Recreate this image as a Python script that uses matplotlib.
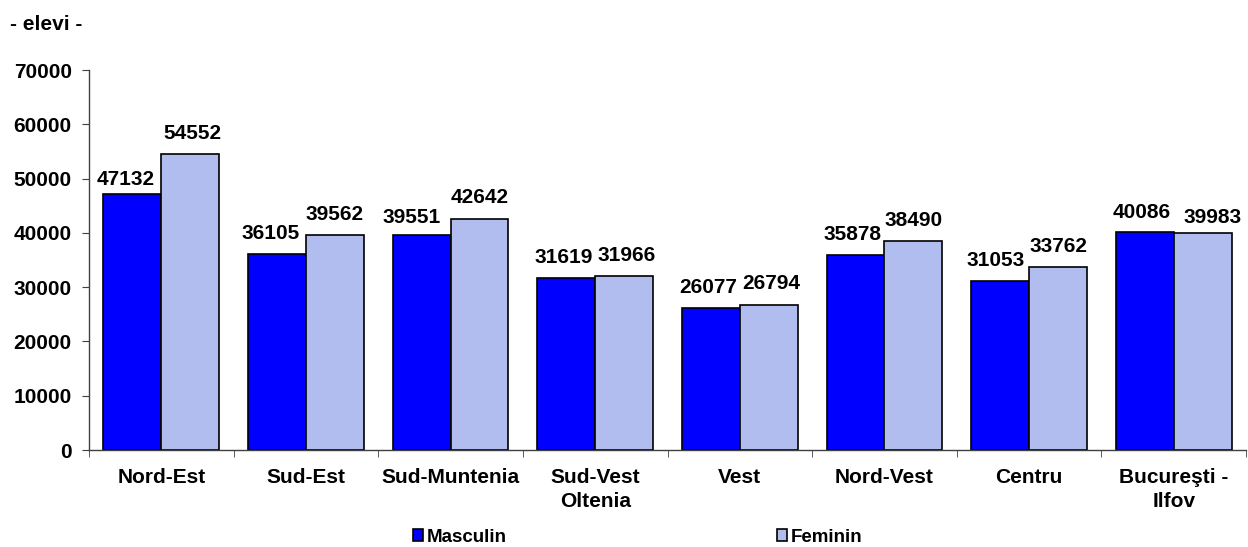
import numpy as np
import matplotlib.pyplot as plt
from matplotlib.patches import Patch

# elevi pe regiuni de dezvoltare, pe sexe
regiuni = ['Nord-Est', 'Sud-Est', 'Sud-Muntenia', 'Sud-Vest\nOltenia', 'Vest',
           'Nord-Vest', 'Centru', 'Bucureşti -\nIlfov']
masculin = [47132, 36105, 39551, 31619, 26077, 35878, 31053, 40086]
feminin = [54552, 39562, 42642, 31966, 26794, 38490, 33762, 39983]
yticks = [0, 10000, 20000, 30000, 40000, 50000, 60000, 70000]

# label nudges (points) as in the original, to avoid collisions
dx_m = [-4.5, -4.5, -7, -2, -2, -2, -3, -2]
dy_m = [4, 8, 6, 8, 8, 8, 8, 7.5]
dx_f = [1.5, 0, 0, 2, 1.5, 0, 0.5, 7]
dy_f = [8, 8, 8, 8, 8, 8, 8, 4]

col_m = '#0000FF'
col_f = '#B1BDEE'

plt.rcParams['font.family'] = ['Liberation Sans', 'DejaVu Sans']
plt.rcParams['font.weight'] = 'bold'
fs = 15

fig = plt.figure(figsize=(12.48, 5.47), dpi=100)
ax = fig.add_axes([89/1248, 1 - 450/547, (1246 - 89)/1248, 380/547])

x = np.arange(len(regiuni))
w = 0.4
b1 = ax.bar(x - w/2, masculin, w, color=col_m, edgecolor='black', linewidth=1.2, label='Masculin')
b2 = ax.bar(x + w/2, feminin, w, color=col_f, edgecolor='black', linewidth=1.2, label='Feminin')

for bars, vals, dxs, dys in ((b1, masculin, dx_m, dy_m), (b2, feminin, dx_f, dy_f)):
    for r, v, dx, dy in zip(bars, vals, dxs, dys):
        ax.annotate(str(v), (r.get_x() + r.get_width()/2, v), xytext=(dx, dy),
                    textcoords='offset points', ha='center', va='bottom',
                    fontsize=fs, fontweight='bold')

ax.set_xlim(-0.5, len(regiuni) - 0.5)
ax.set_ylim(0, 70000)
ax.set_yticks(yticks)
ax.set_yticklabels([str(t) for t in yticks], fontsize=fs, fontweight='bold')
ax.set_xticks(x)
ax.set_xticklabels(regiuni, fontsize=fs, fontweight='bold', linespacing=1.3)
ax.tick_params(axis='x', length=0, pad=13)
ax.set_xticks(np.arange(-0.5, len(regiuni)), minor=True)
ax.tick_params(axis='x', which='minor', length=5, direction='out', color='#404040')
ax.tick_params(axis='y', length=5, direction='out', color='#404040', pad=7.5)

for s in ('top', 'right'):
    ax.spines[s].set_visible(False)
for s in ('left', 'bottom'):
    ax.spines[s].set_color('#404040')
    ax.spines[s].set_linewidth(1)

fig.text(10/1248, 1 - 24/547, '- elevi -', fontsize=fs, fontweight='bold', va='center', ha='left')

lfs = 13.5
handles = [Patch(facecolor=col_m, edgecolor='black', linewidth=1.2, label='Masculin'),
           Patch(facecolor=col_f, edgecolor='black', linewidth=1.2, label='Feminin')]
fig.legend(handles=handles, ncol=2, loc='center left', bbox_to_anchor=(413/1248, 1 - 537/547),
           frameon=False, handlelength=0.55, handleheight=0.55,
           handletextpad=0.2, columnspacing=14.4, borderpad=0, borderaxespad=0,
           prop={'weight': 'bold', 'size': lfs})

fig.savefig('out.png', dpi=100)
